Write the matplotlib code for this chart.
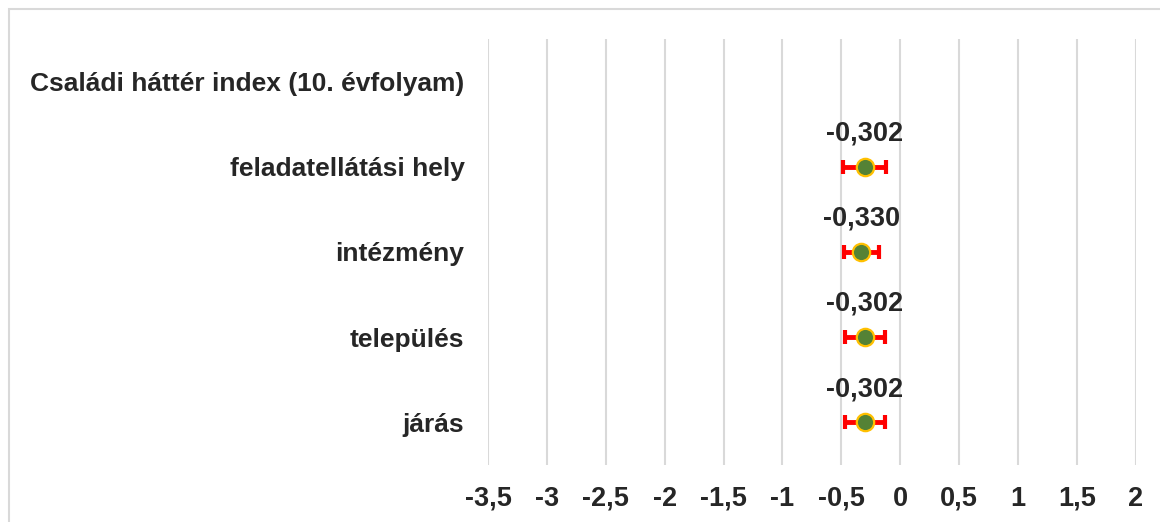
import matplotlib.pyplot as plt
from matplotlib.patches import Rectangle

plt.rcParams['font.family'] = ['Liberation Sans', 'DejaVu Sans']

# categories top to bottom; the first row is a header with no value
categories = ["Családi háttér index (10. évfolyam)", "feladatellátási hely",
              "intézmény", "település", "járás"]
values = [None, -0.302, -0.330, -0.302, -0.302]
errors = [None, 0.18, 0.15, 0.17, 0.17]
labels = [None, "-0,302", "-0,330", "-0,302", "-0,302"]
xticks = [-3.5, -3, -2.5, -2, -1.5, -1, -0.5, 0, 0.5, 1, 1.5, 2]
xticklabels = ["-3,5", "-3", "-2,5", "-2", "-1,5", "-1", "-0,5", "0", "0,5", "1", "1,5", "2"]

text_color = "#262626"
grid_color = "#d9d9d9"

fig = plt.figure(figsize=(11.6, 5.22), dpi=100)
ax = fig.add_axes([488 / 1160, 1 - 465 / 522, (1135.7 - 488) / 1160, (465 - 39) / 522])

# outer chart border (cut off at right and bottom)
fig.patches.append(Rectangle((9 / 1160, -0.1), 1.2, 1 - 9 / 522 + 0.1,
                             transform=fig.transFigure, fill=False,
                             edgecolor=grid_color, linewidth=1.5))

n = len(categories)
ypos = list(range(n - 1, -1, -1))

for y, v, e, lab in zip(ypos, values, errors, labels):
    if v is None:
        continue
    ax.errorbar(v, y, xerr=e, fmt='none', ecolor='#ff0000', elinewidth=3.5,
                capsize=4.8, capthick=3.0, zorder=3)
    ax.plot(v, y, 'o', markersize=12.5, markerfacecolor='#548235',
            markeredgecolor='#ffc000', markeredgewidth=1.6, zorder=4)
    ax.annotate(lab, (v, y), xytext=(0, 24), textcoords='offset points',
                ha='center', va='center', fontsize=19.5, fontweight='bold',
                color=text_color)

ax.set_xlim(-3.5, 2)
ax.set_ylim(-0.5, n - 0.5)
ax.set_xticks(xticks)
ax.set_xticklabels(xticklabels)
ax.set_yticks(ypos)
ax.set_yticklabels(categories)
ax.tick_params(axis='both', length=0, labelsize=19, labelcolor=text_color)
ax.tick_params(axis='x', pad=15, labelsize=19.5)
ax.tick_params(axis='y', pad=17)
for t in ax.get_xticklabels() + ax.get_yticklabels():
    t.set_fontweight('bold')

ax.grid(axis='x', color=grid_color, linewidth=1.5)
ax.set_axisbelow(True)
for s in ax.spines.values():
    s.set_visible(False)

fig.savefig("out.png", dpi=100)
